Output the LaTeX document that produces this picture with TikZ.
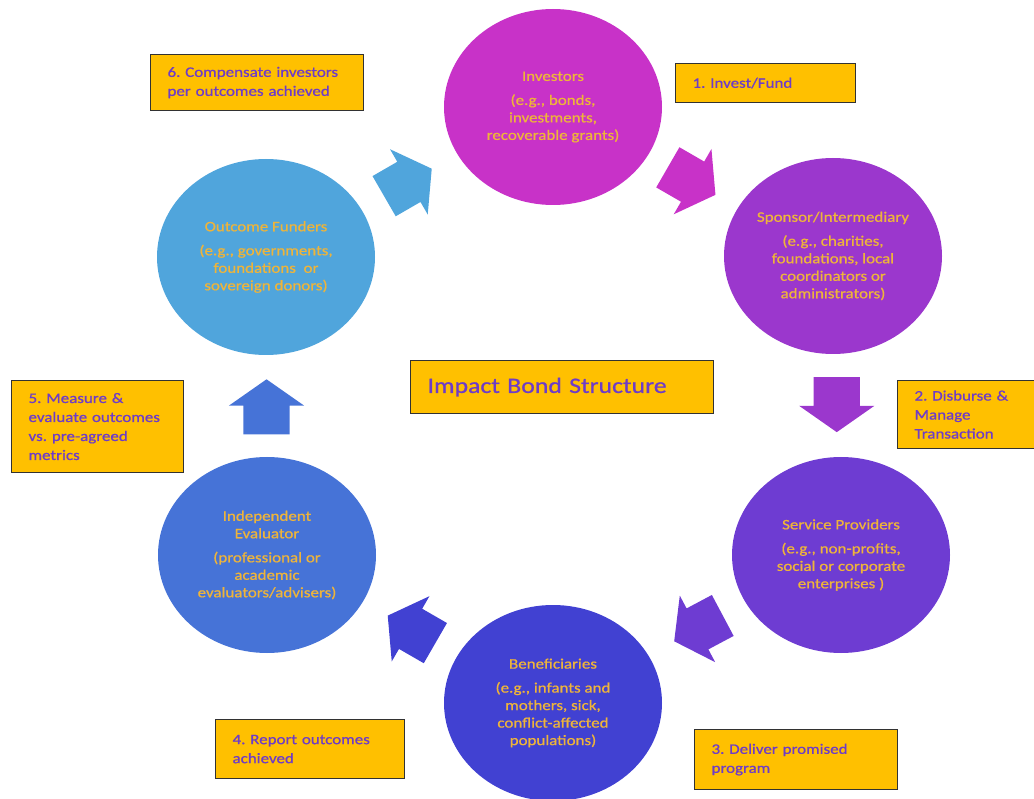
\documentclass[tikz,border=0pt]{standalone}
\usepackage{fontspec}
\setmainfont[FakeStretch=1.17,FakeBold=0.8]{Carlito}
\frenchspacing
\usetikzlibrary{shapes.geometric, shapes.arrows, calc, positioning}

\definecolor{invcol}{RGB}{200,50,200}
\definecolor{spocol}{RGB}{155,55,205}
\definecolor{sercol}{RGB}{110,60,210}
\definecolor{bencol}{RGB}{65,65,210}
\definecolor{evacol}{RGB}{70,115,215}
\definecolor{funcol}{RGB}{80,165,220}
\definecolor{goldtext}{RGB}{238,180,58}
\definecolor{notefill}{RGB}{255,192,0}
\definecolor{notetext}{RGB}{110,60,200}
\definecolor{noteline}{RGB}{50,50,50}

\tikzset{
  party/.style={ellipse, minimum width=218pt, minimum height=196pt, inner sep=0pt, align=center, text=goldtext, font=\fontsize{14.5}{17.5}\selectfont},
  flowarrow/.style={single arrow, minimum height=55pt, inner xsep=0pt, inner ysep=23pt, single arrow head extend=14.5pt, single arrow tip angle=110},
  stepnote/.style={draw=noteline, line width=1.1pt, fill=notefill, text=notetext, anchor=north west, align=left, inner xsep=17pt, inner ysep=0pt, font=\fontsize{14.5}{19}\selectfont}
}

\begin{document}
\begin{tikzpicture}[x=1pt,y=-1pt]
\useasboundingbox (0,0) rectangle (1034,799);
% the six parties
\node[party,fill=invcol] (inv) at (553,107) {Investors\\[6.5pt](e.g., bonds,\\investments,\\recoverable grants)};
\node[party,fill=spocol] (spo) at (833,256) {Sponsor/Intermediary\\[6.5pt](e.g., charities,\\foundations, local\\coordinators or\\administrators)};
\node[party,fill=sercol] (ser) at (841,555) {Service Providers\\[6.5pt](e.g., non-profits,\\social or corporate\\enterprises )};
\node[party,fill=bencol] (ben) at (553,703) {Beneficiaries\\[6.5pt](e.g., infants and\\mothers, sick,\\conflict-affected\\populations)};
\node[party,fill=evacol] (eva) at (267,555) {Independent\\Evaluator\\[6.5pt](professional or\\academic\\evaluators/advisers)};
\node[party,fill=funcol] (fun) at (266,257) {Outcome Funders\\[6.5pt](e.g., governments,\\foundations~ or\\sovereign donors)};

% block arrows between them
\node[flowarrow,fill=invcol,rotate=-30] (a1) at ($(inv)!0.47!(spo)$) {};
\node[flowarrow,fill=spocol,rotate=-90] (a2) at ($(spo)!0.47!(ser)$) {};
\node[flowarrow,fill=sercol,rotate=-152] (a3) at ($(ser)!0.47!(ben)$) {};
\node[flowarrow,fill=bencol,rotate=150] (a4) at ($(ben)!0.47!(eva)$) {};
\node[flowarrow,fill=evacol,rotate=90] (a5) at ($(eva)!0.47!(fun)$) {};
\node[flowarrow,fill=funcol,rotate=30] (a6) at ($(fun)!0.47!(inv)$) {};

% step notes
\node[stepnote, minimum width=180pt, text width=146pt, minimum height=39pt] (n1) at (675,63) {1. Invest/Fund};
\node[stepnote, minimum width=137pt, text width=103pt, minimum height=68pt] (n2) at (897,380) {2. Disburse \&\\Manage\\Transaction};
\node[stepnote, minimum width=203pt, text width=169pt, minimum height=60pt] (n3) at (694,729) {3. Deliver promised\\program};
\node[stepnote, minimum width=189pt, text width=155pt, minimum height=59pt] (n4) at (215,719) {4. Report outcomes\\achieved};
\node[stepnote, minimum width=172pt, text width=138pt, minimum height=92pt] (n5) at (11,380) {5. Measure \&\\evaluate outcomes\\vs. pre-agreed\\metrics};
\node[stepnote, minimum width=213pt, text width=179pt, minimum height=56pt] (n6) at (150,54) {6. Compensate investors\\per outcomes achieved};
\node[stepnote, minimum width=303pt, text width=269pt, minimum height=53pt, font=\fontsize{22}{26}\selectfont] (title) at (410,360) {Impact Bond Structure};

\end{tikzpicture}
\end{document}
